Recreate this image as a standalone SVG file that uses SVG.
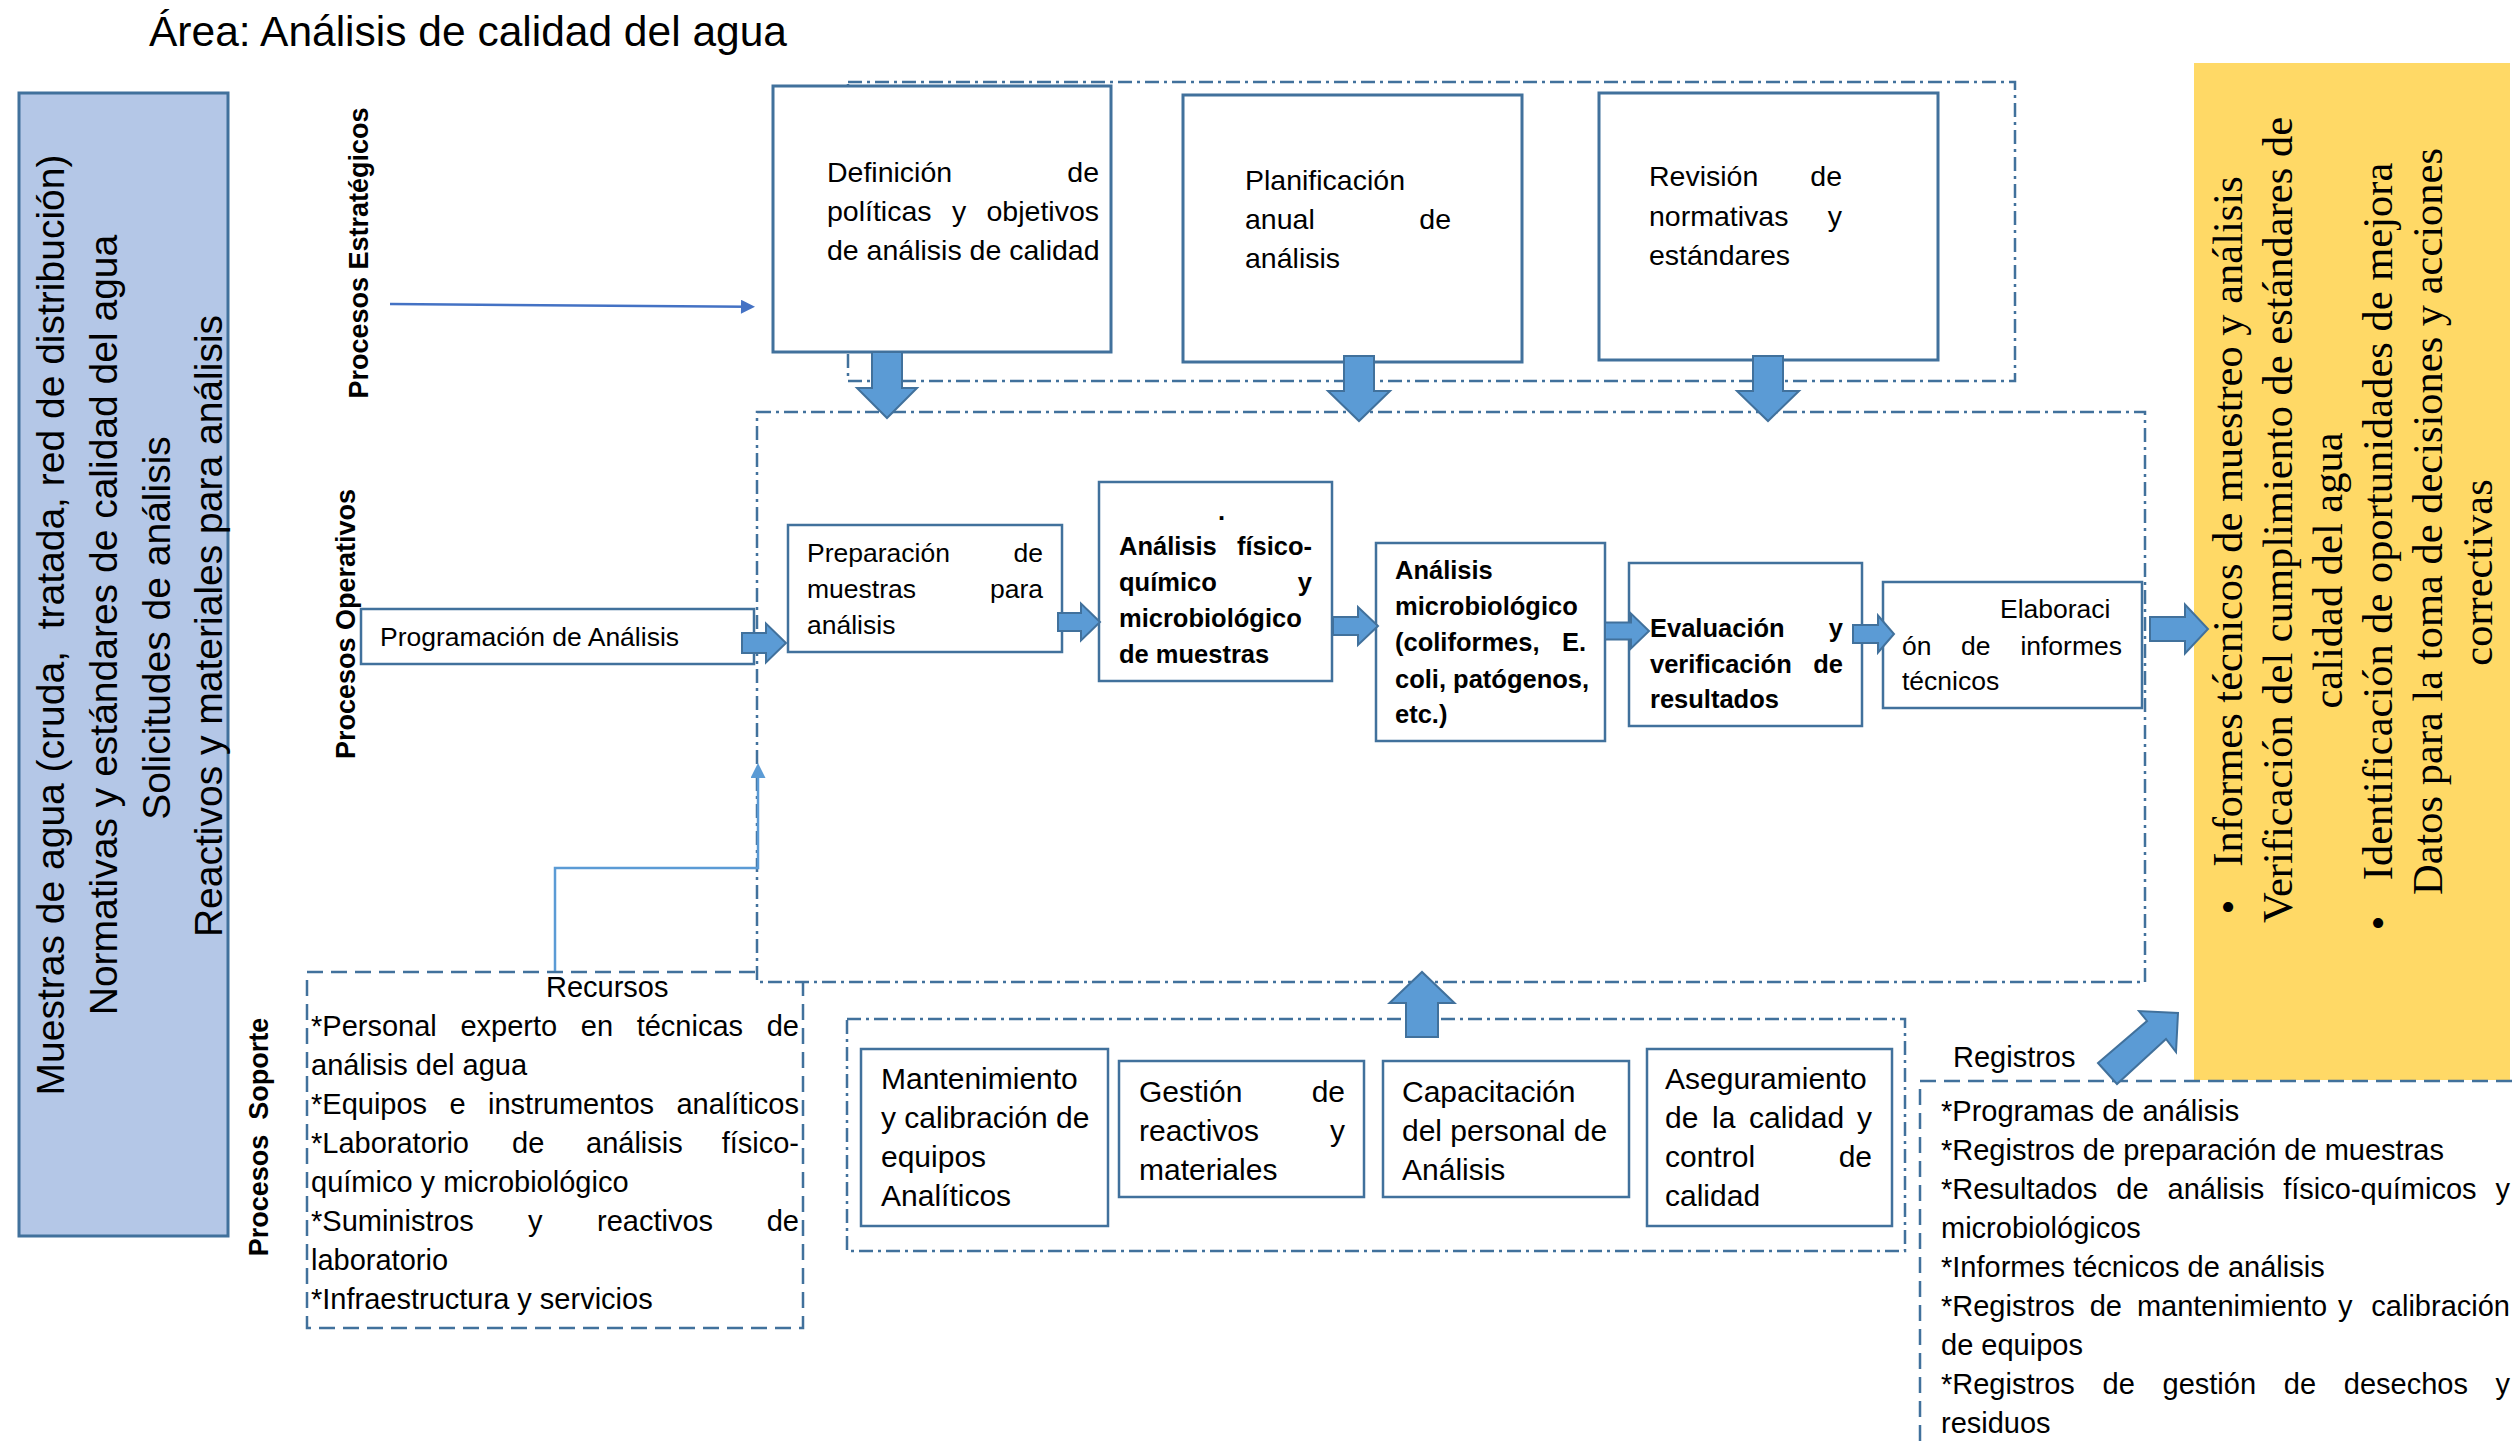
<svg xmlns="http://www.w3.org/2000/svg" width="2516" height="1447" viewBox="0 0 2516 1447">
  <style>
    .t { font-family: 'Liberation Sans', Arial, sans-serif; fill: #000; }
    .serif { font-family: 'Liberation Serif', 'Times New Roman', serif; fill: #000; font-size: 42.5px; }
    .s28 { font-size: 28.5px; }
    .s26 { font-size: 26.5px; }
    .s29 { font-size: 29px; }
    .s30 { font-size: 30px; }
    .b25 { font-size: 25.5px; font-weight: bold; }
    .lbl { font-size: 27px; font-weight: bold; }
    .in { font-size: 39px; }
    .box { fill: #fff; stroke: #41719C; stroke-width: 2.5; }
    .sbox { fill: #fff; stroke: #41719C; stroke-width: 3; }
    .dd { fill: none; stroke: #41719C; stroke-width: 2.5; stroke-dasharray: 14 5 3 5; }
    .ddw { fill: #fff; stroke: #41719C; stroke-width: 2.5; stroke-dasharray: 14 5 3 5; }
    .dash { fill: #fff; stroke: #41719C; stroke-width: 2.5; stroke-dasharray: 16 8; }
    .blk { fill: #5B9BD5; stroke: #41719C; stroke-width: 2; stroke-linejoin: miter; }
  </style>
  <defs>
    <marker id="headDark" viewBox="0 0 10 10" refX="5" refY="5" markerUnits="userSpaceOnUse" markerWidth="16" markerHeight="14" orient="auto">
      <path d="M0 0 L10 5 L0 10 Z" fill="#4472C4"/>
    </marker>
    <marker id="headLight" viewBox="0 0 10 10" refX="5" refY="5" markerUnits="userSpaceOnUse" markerWidth="15" markerHeight="15" orient="auto">
      <path d="M0 0 L10 5 L0 10 Z" fill="#5B9BD5"/>
    </marker>
  </defs>

  <rect width="2516" height="1447" fill="#fff"/>

  <!-- title -->
  <text class="t" x="149" y="46" font-size="42.5">Área: Análisis de calidad del agua</text>

  <!-- lane labels -->
  <g id="lane-labels" class="t lbl">
    <text transform="translate(368,253) rotate(-90)" text-anchor="middle">Procesos Estratégicos</text>
    <text transform="translate(355,624) rotate(-90)" text-anchor="middle">Procesos Operativos</text>
    <text transform="translate(268,1137) rotate(-90)" text-anchor="middle">Procesos&#160; Soporte</text>
  </g>

  <!-- inputs -->
  <g id="entradas">
    <rect x="19" y="93" width="209" height="1143" fill="#B4C7E7" stroke="#41719C" stroke-width="3"/>
    <g class="t in" text-anchor="middle">
      <text transform="translate(64,625) rotate(-90)">Muestras de agua (cruda,&#160; tratada, red de distribución)</text>
      <text transform="translate(117,625) rotate(-90)">Normativas y estándares de calidad del agua</text>
      <text transform="translate(170,628) rotate(-90)">Solicitudes de análisis</text>
      <text transform="translate(222,626) rotate(-90)">Reactivos y materiales para análisis</text>
    </g>
  </g>

  <!-- outputs -->
  <g id="salidas">
    <rect x="2194" y="63" width="316" height="1017" fill="#FFD966"/>
    <g class="serif" text-anchor="middle">
      <text transform="translate(2242,907) rotate(-90)">•</text>
      <text transform="translate(2242,521.5) rotate(-90)">Informes técnicos de muestreo y análisis</text>
      <text transform="translate(2292,520) rotate(-90)">Verificación del cumplimiento de estándares de</text>
      <text transform="translate(2342,570.5) rotate(-90)">calidad del agua</text>
      <text transform="translate(2392,923) rotate(-90)">•</text>
      <text transform="translate(2392,521.5) rotate(-90)">Identificación de oportunidades de mejora</text>
      <text transform="translate(2442,521.5) rotate(-90)">Datos para la toma de decisiones y acciones</text>
      <text transform="translate(2492,572.5) rotate(-90)">correctivas</text>
    </g>
  </g>

  <!-- strategic processes -->
  <rect id="marco-estrategico" class="dd" x="848" y="82" width="1167" height="299"/>
  <g id="definicion-politicas">
    <rect class="sbox" x="773" y="86" width="338" height="266"/>
    <g class="t s28">
      <text x="827" y="182">Definición</text>
      <text x="1099" y="182" text-anchor="end">de</text>
      <text y="221"><tspan x="827">políticas</tspan><tspan x="952">y</tspan><tspan x="986.5">objetivos</tspan></text>
      <text x="827" y="260">de análisis de calidad</text>
    </g>
  </g>
  <g id="planificacion-anual">
    <rect class="sbox" x="1183" y="95" width="339" height="267"/>
    <g class="t s28">
      <text x="1245" y="190">Planificación</text>
      <text x="1245" y="229">anual</text>
      <text x="1451" y="229" text-anchor="end">de</text>
      <text x="1245" y="268">análisis</text>
    </g>
  </g>
  <g id="revision-normativas">
    <rect class="sbox" x="1599" y="93" width="339" height="267"/>
    <g class="t s28">
      <text x="1649" y="186">Revisión</text>
      <text x="1842" y="186" text-anchor="end">de</text>
      <text x="1649" y="226">normativas</text>
      <text x="1842" y="226" text-anchor="end">y</text>
      <text x="1649" y="265">estándares</text>
    </g>
  </g>

  <!-- support resources (drawn below the operative frame) -->
  <g id="recursos">
    <rect class="dash" x="307" y="972" width="496" height="356"/>
    <g class="t s29">
      <text x="546" y="997">Recursos</text>
      <text y="1036"><tspan x="311">*Personal</tspan><tspan x="460.4">experto</tspan><tspan x="580.8">en</tspan><tspan x="636.7">técnicas</tspan></text>
      <text x="799" y="1036" text-anchor="end">de</text>
      <text x="311" y="1075">análisis del agua</text>
      <text y="1114"><tspan x="311">*Equipos</tspan><tspan x="449.5">e</tspan><tspan x="488">instrumentos</tspan></text>
      <text x="799" y="1114" text-anchor="end">analíticos</text>
      <text y="1153"><tspan x="311">*Laboratorio</tspan><tspan x="512">de</tspan><tspan x="586">análisis</tspan></text>
      <text x="799" y="1153" text-anchor="end">físico-</text>
      <text x="311" y="1192">químico y microbiológico</text>
      <text y="1231"><tspan x="311">*Suministros</tspan><tspan x="528">y</tspan><tspan x="597">reactivos</tspan></text>
      <text x="799" y="1231" text-anchor="end">de</text>
      <text x="311" y="1270">laboratorio</text>
      <text x="311" y="1309">*Infraestructura y servicios</text>
    </g>
  </g>

  <!-- operative processes -->
  <rect id="marco-operativo" class="ddw" x="757" y="412" width="1388" height="570"/>
  <g id="programacion">
    <rect class="box" x="361" y="609" width="393" height="55"/>
    <text class="t s26" x="380" y="646">Programación de Análisis</text>
  </g>
  <g id="preparacion">
    <rect class="box" x="788" y="525" width="274" height="127"/>
    <g class="t s26">
      <text x="807" y="562">Preparación</text>
      <text x="1043" y="562" text-anchor="end">de</text>
      <text x="807" y="598">muestras</text>
      <text x="1043" y="598" text-anchor="end">para</text>
      <text x="807" y="634">análisis</text>
    </g>
  </g>
  <g id="analisis-fisicoquimico">
    <rect class="box" x="1099" y="482" width="233" height="199"/>
    <g class="t b25">
      <text x="1218" y="520">.</text>
      <text x="1119" y="555">Análisis</text>
      <text x="1312" y="555" text-anchor="end">físico-</text>
      <text x="1119" y="591">químico</text>
      <text x="1312" y="591" text-anchor="end">y</text>
      <text x="1119" y="627">microbiológico</text>
      <text x="1119" y="663">de muestras</text>
    </g>
  </g>
  <g id="analisis-microbiologico">
    <rect class="box" x="1376" y="543" width="229" height="198"/>
    <g class="t b25">
      <text x="1395" y="579">Análisis</text>
      <text x="1395" y="615">microbiológico</text>
      <text x="1395" y="651">(coliformes,</text>
      <text x="1586" y="651" text-anchor="end">E.</text>
      <text x="1395" y="688">coli, patógenos,</text>
      <text x="1395" y="723">etc.)</text>
    </g>
  </g>
  <g id="evaluacion">
    <rect class="box" x="1629" y="563" width="233" height="163"/>
    <g class="t b25">
      <text x="1650" y="637">Evaluación</text>
      <text x="1843" y="637" text-anchor="end">y</text>
      <text x="1650" y="673">verificación</text>
      <text x="1843" y="673" text-anchor="end">de</text>
      <text x="1650" y="708">resultados</text>
    </g>
  </g>
  <g id="elaboracion-informes">
    <rect class="box" x="1883" y="582" width="259" height="126"/>
    <g class="t s26">
      <text x="2000" y="618">Elaboraci</text>
      <text y="655"><tspan x="1902">ón</tspan><tspan x="1961">de</tspan></text>
      <text x="2122" y="655" text-anchor="end">informes</text>
      <text x="1902" y="690">técnicos</text>
    </g>
  </g>

  <!-- support processes -->
  <rect id="marco-soporte" class="dd" x="847" y="1019" width="1058" height="232"/>
  <g id="mantenimiento">
    <rect class="box" x="861" y="1049" width="247" height="177"/>
    <g class="t s30">
      <text x="881" y="1089">Mantenimiento</text>
      <text x="881" y="1128">y calibración de</text>
      <text x="881" y="1167">equipos</text>
      <text x="881" y="1206">Analíticos</text>
    </g>
  </g>
  <g id="gestion-reactivos">
    <rect class="box" x="1119" y="1061" width="245" height="136"/>
    <g class="t s30">
      <text x="1139" y="1102">Gestión</text>
      <text x="1345" y="1102" text-anchor="end">de</text>
      <text x="1139" y="1141">reactivos</text>
      <text x="1345" y="1141" text-anchor="end">y</text>
      <text x="1139" y="1180">materiales</text>
    </g>
  </g>
  <g id="capacitacion">
    <rect class="box" x="1383" y="1061" width="246" height="136"/>
    <g class="t s30">
      <text x="1402" y="1102">Capacitación</text>
      <text x="1402" y="1141">del personal de</text>
      <text x="1402" y="1180">Análisis</text>
    </g>
  </g>
  <g id="aseguramiento-calidad">
    <rect class="box" x="1647" y="1049" width="245" height="177"/>
    <g class="t s30">
      <text x="1665" y="1089">Aseguramiento</text>
      <text y="1128"><tspan x="1665">de</tspan><tspan x="1712">la</tspan><tspan x="1749">calidad</tspan></text>
      <text x="1872" y="1128" text-anchor="end">y</text>
      <text x="1665" y="1167">control</text>
      <text x="1872" y="1167" text-anchor="end">de</text>
      <text x="1665" y="1206">calidad</text>
    </g>
  </g>

  <!-- records -->
  <g id="registros">
    <rect class="dash" x="1920" y="1081" width="620" height="400"/>
    <g class="t s29">
      <text x="1953" y="1067">Registros</text>
      <text x="1941" y="1121">*Programas de análisis</text>
      <text x="1941" y="1160">*Registros de preparación de muestras</text>
      <text y="1199"><tspan x="1941">*Resultados</tspan><tspan x="2116.3">de</tspan><tspan x="2167.5">análisis</tspan><tspan x="2283.2">físico-químicos</tspan></text>
      <text x="2510" y="1199" text-anchor="end">y</text>
      <text x="1941" y="1238">microbiológicos</text>
      <text x="1941" y="1277">*Informes técnicos de análisis</text>
      <text y="1316"><tspan x="1941">*Registros</tspan><tspan x="2089.7">de</tspan><tspan x="2136.9">mantenimiento</tspan><tspan x="2338">y</tspan></text>
      <text x="2510" y="1316" text-anchor="end">calibración</text>
      <text x="1941" y="1355">de equipos</text>
      <text y="1394"><tspan x="1941">*Registros</tspan><tspan x="2102.5">de</tspan><tspan x="2162.5">gestión</tspan><tspan x="2283.8">de</tspan><tspan x="2343.8">desechos</tspan></text>
      <text x="2510" y="1394" text-anchor="end">y</text>
      <text x="1941" y="1433">residuos</text>
    </g>
  </g>

  <!-- connectors -->
  <g id="conectores">
    <path d="M390 304 L748 306.8" fill="none" stroke="#4472C4" stroke-width="2.5" marker-end="url(#headDark)"/>
    <path d="M555 971 V868 H758 V770.5" fill="none" stroke="#5B9BD5" stroke-width="2.5" marker-end="url(#headLight)"/>

    <!-- strategic to operative -->
    <polygon class="blk" points="872,352 902,352 902,388 917,388 887,418 857,388 872,388"/>
    <polygon class="blk" points="1344,356 1374,356 1374,391 1390,391 1359,421 1328,391 1344,391"/>
    <polygon class="blk" points="1753,356 1783,356 1783,391 1799,391 1768,421 1737,391 1753,391"/>

    <!-- operative flow -->
    <polygon class="blk" points="742,633 766,633 766,623.5 786,643 766,662.5 766,653 742,653"/>
    <polygon class="blk" points="1058,613 1081,613 1081,603.5 1100,622 1081,640.5 1081,631 1058,631"/>
    <polygon class="blk" points="1333,617 1358,617 1358,607 1378,626 1358,645 1358,635 1333,635"/>
    <polygon class="blk" points="1605,622.5 1631,622.5 1631,613.5 1649,631 1631,648.5 1631,639.5 1605,639.5"/>
    <polygon class="blk" points="1853,625 1878,625 1878,615.5 1894,634 1878,652.5 1878,643 1853,643"/>
    <polygon class="blk" points="2150,617 2185,617 2185,604.5 2208,629 2185,653.5 2185,641 2150,641"/>

    <!-- support to operative -->
    <polygon class="blk" points="1406,1037 1438,1037 1438,1003 1454.5,1003 1422,972 1389.5,1003 1406,1003"/>

    <!-- records to outputs -->
    <polygon class="blk" points="2098,1063 2147,1021 2139,1011 2178,1013 2176,1052 2166,1039 2117,1084"/>
  </g>
</svg>
